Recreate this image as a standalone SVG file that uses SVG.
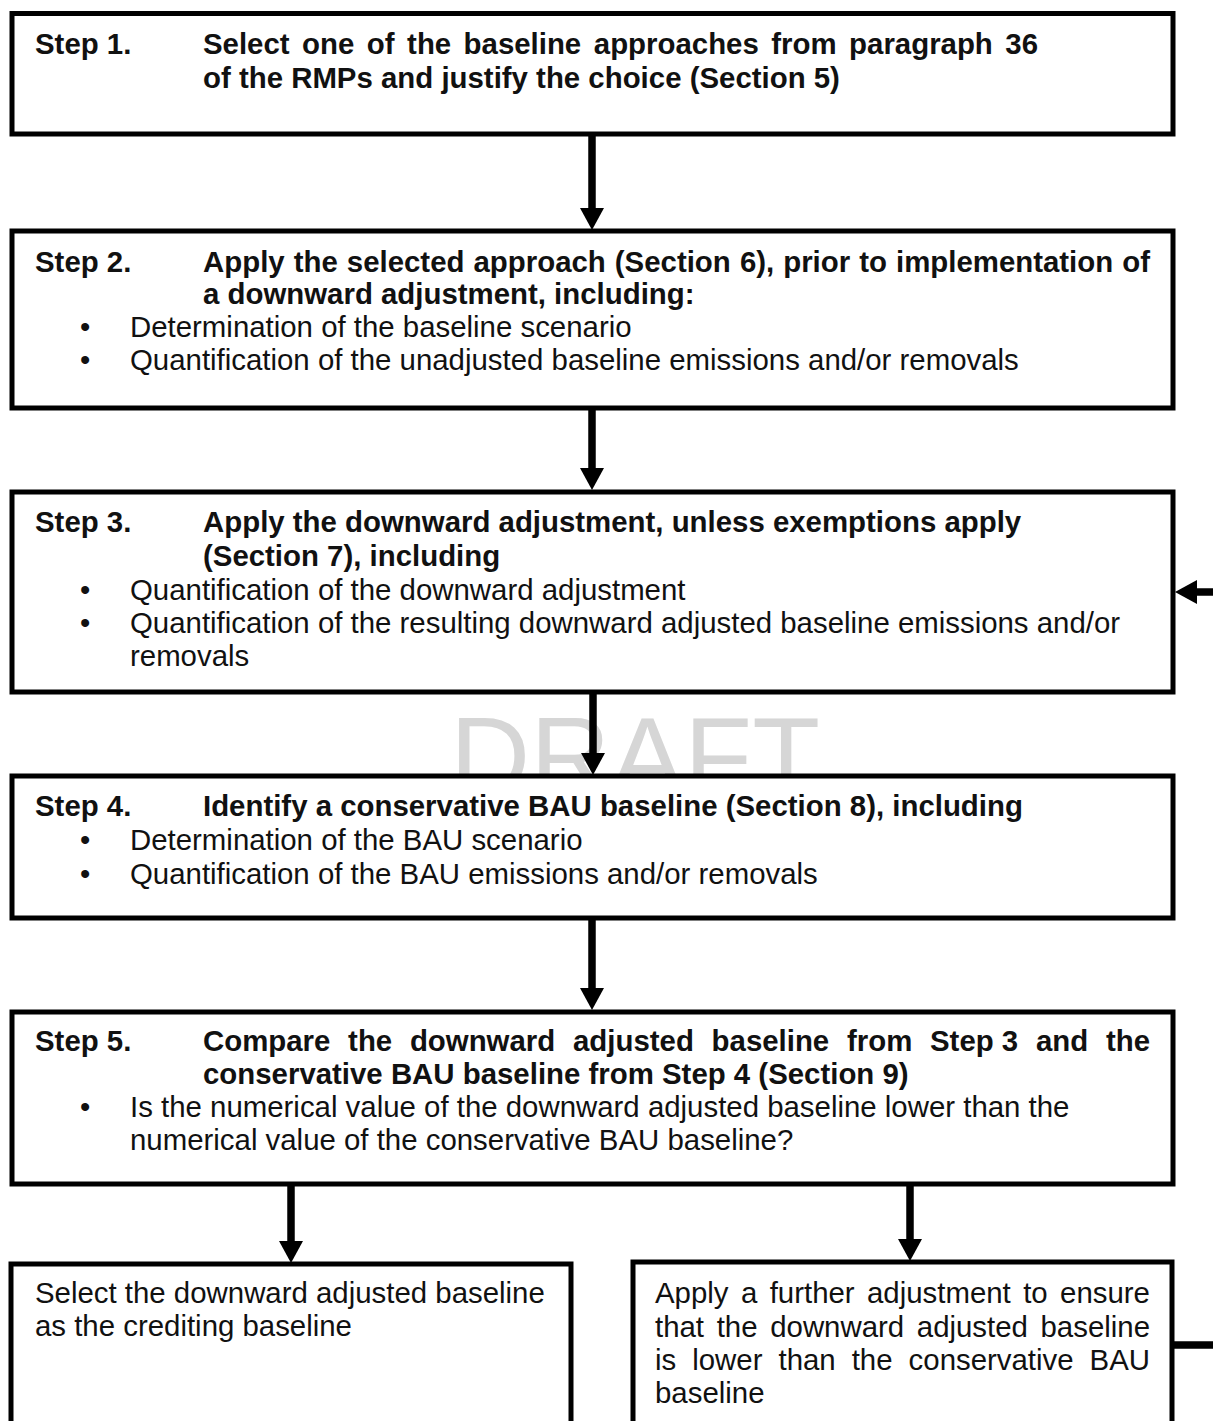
<svg xmlns="http://www.w3.org/2000/svg" width="1213" height="1421" viewBox="0 0 1213 1421">
<style>
.box{fill:#fff;stroke:#000;stroke-width:5}
.b{font-family:"Liberation Sans",Arial,sans-serif;font-size:29.4px;font-weight:bold;fill:#111}
.r{font-family:"Liberation Sans",Arial,sans-serif;font-size:29.4px;fill:#111}
.wm{font-family:"Liberation Sans",Arial,sans-serif;font-size:111px;fill:#d6d6d6}
.c{fill:none;stroke:#000;stroke-width:7.5}
</style>
<defs>
<marker id="ah" viewBox="0 0 22 24" refX="0" refY="12" markerWidth="22" markerHeight="24" markerUnits="userSpaceOnUse" orient="auto">
<path d="M0,0 L22,12 L0,24 z" fill="#000"/>
</marker>
<clipPath id="wmclip"><rect x="0" y="692" width="1213" height="84"/></clipPath>
</defs>
<rect width="1213" height="1421" fill="#fff"/>
<g clip-path="url(#wmclip)">
<text class="wm" x="450" y="795">DRAFT</text>
</g>

<g id="step1">
<rect class="box" x="12" y="13.5" width="1161" height="120.5"/>
<text class="b" x="35" y="54">Step 1.</text>
<text class="b" y="54"><tspan x="203">Select</tspan><tspan x="302.1">one</tspan><tspan x="366.8">of</tspan><tspan x="407.1">the</tspan><tspan x="463.6">baseline</tspan><tspan x="593.8">approaches</tspan><tspan x="771.3">from</tspan><tspan x="849.1">paragraph</tspan><tspan x="1005.3">36</tspan></text>
<text class="b" x="203" y="88">of the RMPs and justify the choice (Section 5)</text>
</g>

<g id="step2">
<rect class="box" x="12" y="231" width="1161" height="177"/>
<text class="b" x="35" y="272">Step 2.</text>
<text class="b" y="272"><tspan x="203">Apply</tspan><tspan x="293.7">the</tspan><tspan x="346.8">selected</tspan><tspan x="473.5">approach</tspan><tspan x="614.8">(Section</tspan><tspan x="739.9">6),</tspan><tspan x="783.2">prior</tspan><tspan x="859.2">to</tspan><tspan x="896">implementation</tspan><tspan x="1122.2">of</tspan></text>
<text class="b" x="203" y="304">a downward adjustment, including:</text>
<text class="r" x="80" y="337">•</text>
<text class="r" x="130" y="337">Determination of the baseline scenario</text>
<text class="r" x="80" y="370">•</text>
<text class="r" x="130" y="370">Quantification of the unadjusted baseline emissions and/or removals</text>
</g>

<g id="step3">
<rect class="box" x="12" y="492" width="1161" height="200"/>
<text class="b" x="35" y="532">Step 3.</text>
<text class="b" x="203" y="532">Apply the downward adjustment, unless exemptions apply</text>
<text class="b" x="203" y="566">(Section 7), including</text>
<text class="r" x="80" y="600">•</text>
<text class="r" x="130" y="600">Quantification of the downward adjustment</text>
<text class="r" x="80" y="633">•</text>
<text class="r" x="130" y="633">Quantification of the resulting downward adjusted baseline emissions and/or</text>
<text class="r" x="130" y="666">removals</text>
</g>

<g id="step4">
<rect class="box" x="12" y="776" width="1161" height="142"/>
<text class="b" x="35" y="816">Step 4.</text>
<text class="b" x="203" y="816">Identify a conservative BAU baseline (Section 8), including</text>
<text class="r" x="80" y="850">•</text>
<text class="r" x="130" y="850">Determination of the BAU scenario</text>
<text class="r" x="80" y="884">•</text>
<text class="r" x="130" y="884">Quantification of the BAU emissions and/or removals</text>
</g>

<g id="step5">
<rect class="box" x="12" y="1012" width="1161" height="172"/>
<text class="b" x="35" y="1051">Step 5.</text>
<text class="b" y="1051"><tspan x="203">Compare</tspan><tspan x="348.1">the</tspan><tspan x="409.9">downward</tspan><tspan x="573">adjusted</tspan><tspan x="711.6">baseline</tspan><tspan x="847">from</tspan><tspan x="930">Step 3</tspan><tspan x="1035.9">and</tspan><tspan x="1105.9">the</tspan></text>
<text class="b" x="203" y="1084">conservative BAU baseline from Step 4 (Section 9)</text>
<text class="r" x="80" y="1117">•</text>
<text class="r" x="130" y="1117">Is the numerical value of the downward adjusted baseline lower than the</text>
<text class="r" x="130" y="1150">numerical value of the conservative BAU baseline?</text>
</g>

<g id="select">
<rect class="box" x="11" y="1264" width="560" height="200"/>
<text class="r" x="35" y="1303">Select the downward adjusted baseline</text>
<text class="r" x="35" y="1336">as the crediting baseline</text>
</g>

<g id="further">
<rect class="box" x="633" y="1262" width="539" height="200"/>
<text class="r" y="1303"><tspan x="655">Apply</tspan><tspan x="740.9">a</tspan><tspan x="769.7">further</tspan><tspan x="867">adjustment</tspan><tspan x="1023.2">to</tspan><tspan x="1060.1">ensure</tspan></text>
<text class="r" y="1337"><tspan x="655">that</tspan><tspan x="716.7">the</tspan><tspan x="770.2">downward</tspan><tspan x="916.8">adjusted</tspan><tspan x="1040.5">baseline</tspan></text>
<text class="r" y="1370"><tspan x="655">is</tspan><tspan x="692.2">lower</tspan><tspan x="778.5">than</tspan><tspan x="851.7">the</tspan><tspan x="908.6">conservative</tspan><tspan x="1089.6">BAU</tspan></text>
<text class="r" x="655" y="1403">baseline</text>
</g>

<g id="connectors">
<path class="c" d="M592,134 V208" marker-end="url(#ah)"/>
<path class="c" d="M592,408 V468" marker-end="url(#ah)"/>
<path class="c" d="M593,692 V753" marker-end="url(#ah)"/>
<path class="c" d="M592,918 V988" marker-end="url(#ah)"/>
<path class="c" d="M291,1184 V1241" marker-end="url(#ah)"/>
<path class="c" d="M910,1184 V1239" marker-end="url(#ah)"/>
<path class="c" d="M1172,1345 H1240 V592 H1197" marker-end="url(#ah)"/>
</g>
</svg>
